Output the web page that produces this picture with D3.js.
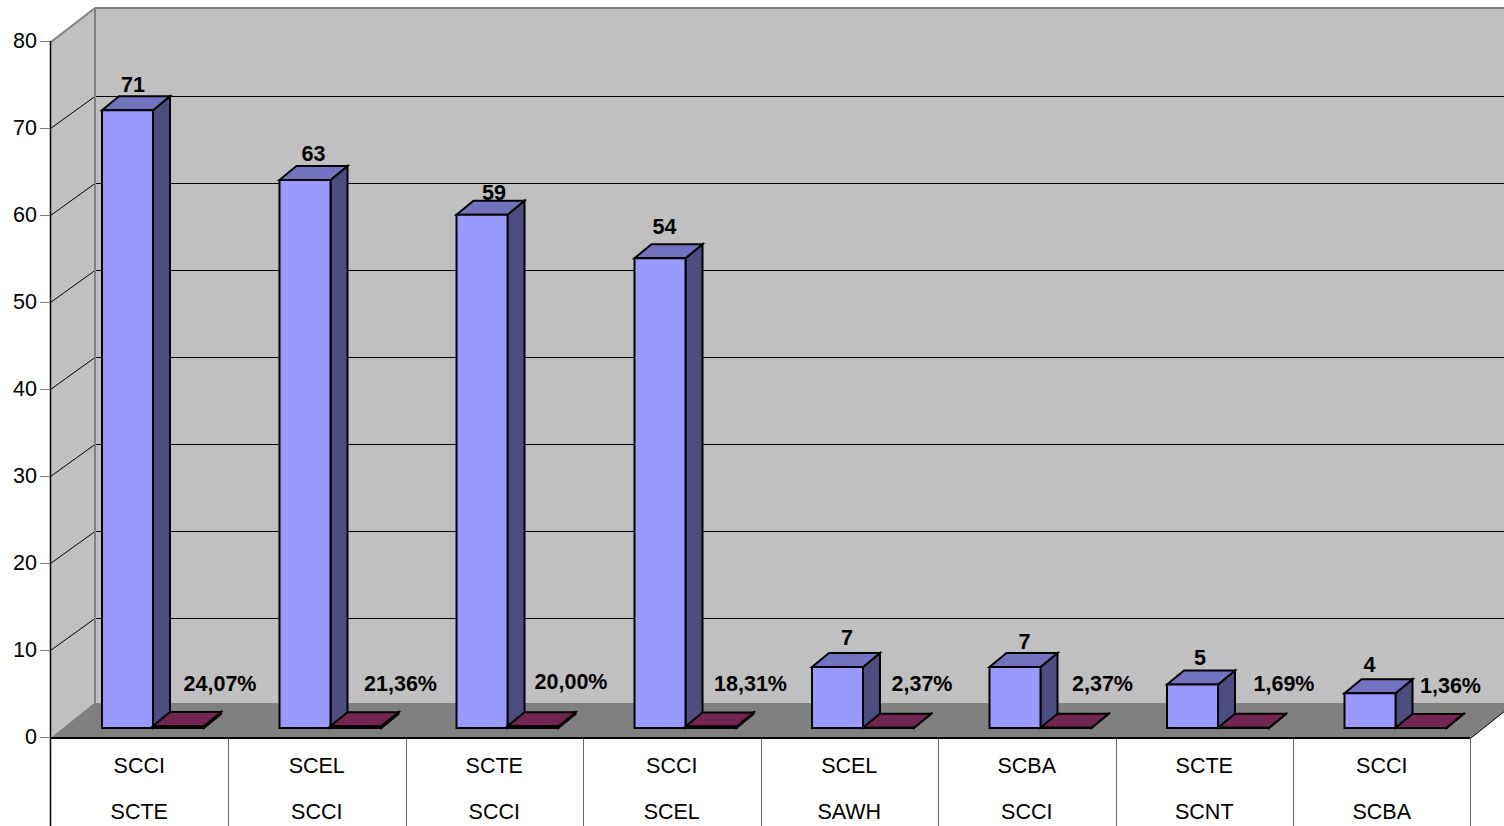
<!DOCTYPE html>
<html><head><meta charset="utf-8">
<script src="https://cdn.jsdelivr.net/npm/d3@7"></script>
<style>html,body{margin:0;padding:0;background:#fff;overflow:hidden}svg{display:block}text{font-family:"Liberation Sans",Arial,sans-serif;fill:#000}</style>
</head><body><svg id="c" width="1504" height="826"></svg>
<script>
const routeTop = ["SCCI","SCEL","SCTE","SCCI","SCEL","SCBA","SCTE","SCCI"];
const routeBottom = ["SCTE","SCCI","SCCI","SCEL","SAWH","SCCI","SCNT","SCBA"];
const counts = [71,63,59,54,7,7,5,4];
const shares = [24.07,21.36,20.00,18.31,2.37,2.37,1.69,1.36];
const shareLabels = ["24,07%","21,36%","20,00%","18,31%","2,37%","2,37%","1,69%","1,36%"];
const yTicks = [0,10,20,30,40,50,60,70,80];
// hand placement of the data labels, as in the source chart
const countNudge = [[0,-1],[3,-2],[6,2],[-1,-7],[4,-5],[4,-1],[2,-3],[-6,-4]];
const shareNudge = [[0,0],[3,0],[-4,-2],[-2,0],[-8,0],[-5,0],[-1,0],[-12,2]];

const L=51,R=1471,Y0=738,Y80=42,DX=44,BDX=17,BDY=14,FY=10;
const svg=d3.select("#c");
const x=d3.scaleBand().domain(d3.range(8)).range([L,R]);
const y=d3.scaleLinear().domain([0,80]).range([Y0,Y80]);
const poly=(g,pts,fill,stroke,sw)=>g.append("polygon").attr("points",pts.map(p=>p.join(",")).join(" ")).attr("fill",fill).attr("stroke",stroke||"none").attr("stroke-width",sw||0).attr("stroke-linejoin","miter");
const line=(g,a,b,stroke,sw)=>g.append("line").attr("x1",a[0]).attr("y1",a[1]).attr("x2",b[0]).attr("y2",b[1]).attr("stroke",stroke).attr("stroke-width",sw||1);

const bg=svg.append("g");
const topY=y(80)-34, floorY=y(0)-35, gridY=t=>Math.floor(y(t)-33)+.5;
poly(bg,[[L+DX,topY],[R+DX,topY],[R+DX,floorY],[L+DX,floorY]],"#c0c0c0");
poly(bg,[[L,y(80)],[L+DX,topY],[L+DX,floorY],[L,y(0)]],"#c0c0c0");
poly(bg,[[L,y(0)],[L+DX,floorY],[R+DX,floorY],[R,y(0)]],"#808080");
yTicks.slice(1,-1).forEach(t=>{
  line(bg,[L-.5,y(t)-.5],[L+DX,gridY(t)],"#000",1);
  line(bg,[L+DX,gridY(t)],[R+DX,gridY(t)],"#000",1);
});
line(bg,[L,y(80)],[L+DX,topY],"#808080",2);
line(bg,[L+DX,topY],[R+DX,topY],"#808080",2);
line(bg,[L+DX,topY],[L+DX,floorY],"#808080",2);
line(bg,[L,y(0)],[L+DX,floorY],"#808080",1);
line(bg,[R,y(0)],[R+DX,floorY],"#000",1);

const axis=d3.axisLeft(y).tickValues(yTicks).tickSize(10).tickPadding(3).tickFormat(d3.format("d"));
const ag=svg.append("g").attr("transform",`translate(${L-1},-1)`).call(axis);
ag.select(".domain").attr("stroke","#000").attr("stroke-width",1.5).attr("d",`M0.5,${y(80)}V${y(0)}`);
ag.selectAll(".tick line").attr("stroke","#808080").attr("stroke-width",1);
ag.selectAll("text").style("font-size","21.5px").attr("font-family",null);

const barW=51;
const marks=svg.append("g");
function cuboid(x0,h,front,top,side){
  const base=y(0)-FY, yt=base-(y(0)-y(h)), x1=x0+barW;
  const g=marks.append("g");
  poly(g,[[x1,yt],[x1+BDX,yt-BDY],[x1+BDX,base-BDY],[x1,base]],side,"#000",2);
  poly(g,[[x0,yt],[x0+BDX,yt-BDY],[x1+BDX,yt-BDY],[x1,yt]],top,"#000",2);
  poly(g,[[x0,yt],[x1,yt],[x1,base],[x0,base]],front,"#000",2);
}
counts.forEach((c,i)=>{
  const x0=x(i)+51-(i===2?.5:0);
  cuboid(x0,c,"#9999ff","#7272bf","#4d4d80");
  cuboid(x0+barW,shares[i]/100,"#993366","#732650","#4d1a33");
});
const labels=svg.append("g").style("font-size","21.5px").style("font-weight","700").attr("text-anchor","middle");
counts.forEach((c,i)=>{
  labels.append("text").attr("x",x(i)+82+countNudge[i][0]).attr("y",y(c)-FY-13-4+countNudge[i][1]).text(c);
});
shares.forEach((s,i)=>{
  labels.append("text").attr("x",x(i)+169+shareNudge[i][0]).attr("y",691+shareNudge[i][1]).text(shareLabels[i]);
});

const table=svg.append("g");
d3.range(9).forEach(i=>{
  const px=Math.floor(i<8?x(i):R)-(i===0||i===8?1:0)+.5;
  line(table,[px,y(0)],[px,826],i===0?"#000":"#666",i===0?1.5:1);
});
line(table,[L-1,y(0)],[R-1,y(0)],"#000",2);
const tg=table.append("g").style("font-size","21.5px").attr("text-anchor","middle");
routeTop.forEach((r,i)=>tg.append("text").attr("x",x(i)+x.bandwidth()/2-.5).attr("y",773).text(r));
routeBottom.forEach((r,i)=>tg.append("text").attr("x",x(i)+x.bandwidth()/2-.5).attr("y",819).text(r));
</script></body></html>
